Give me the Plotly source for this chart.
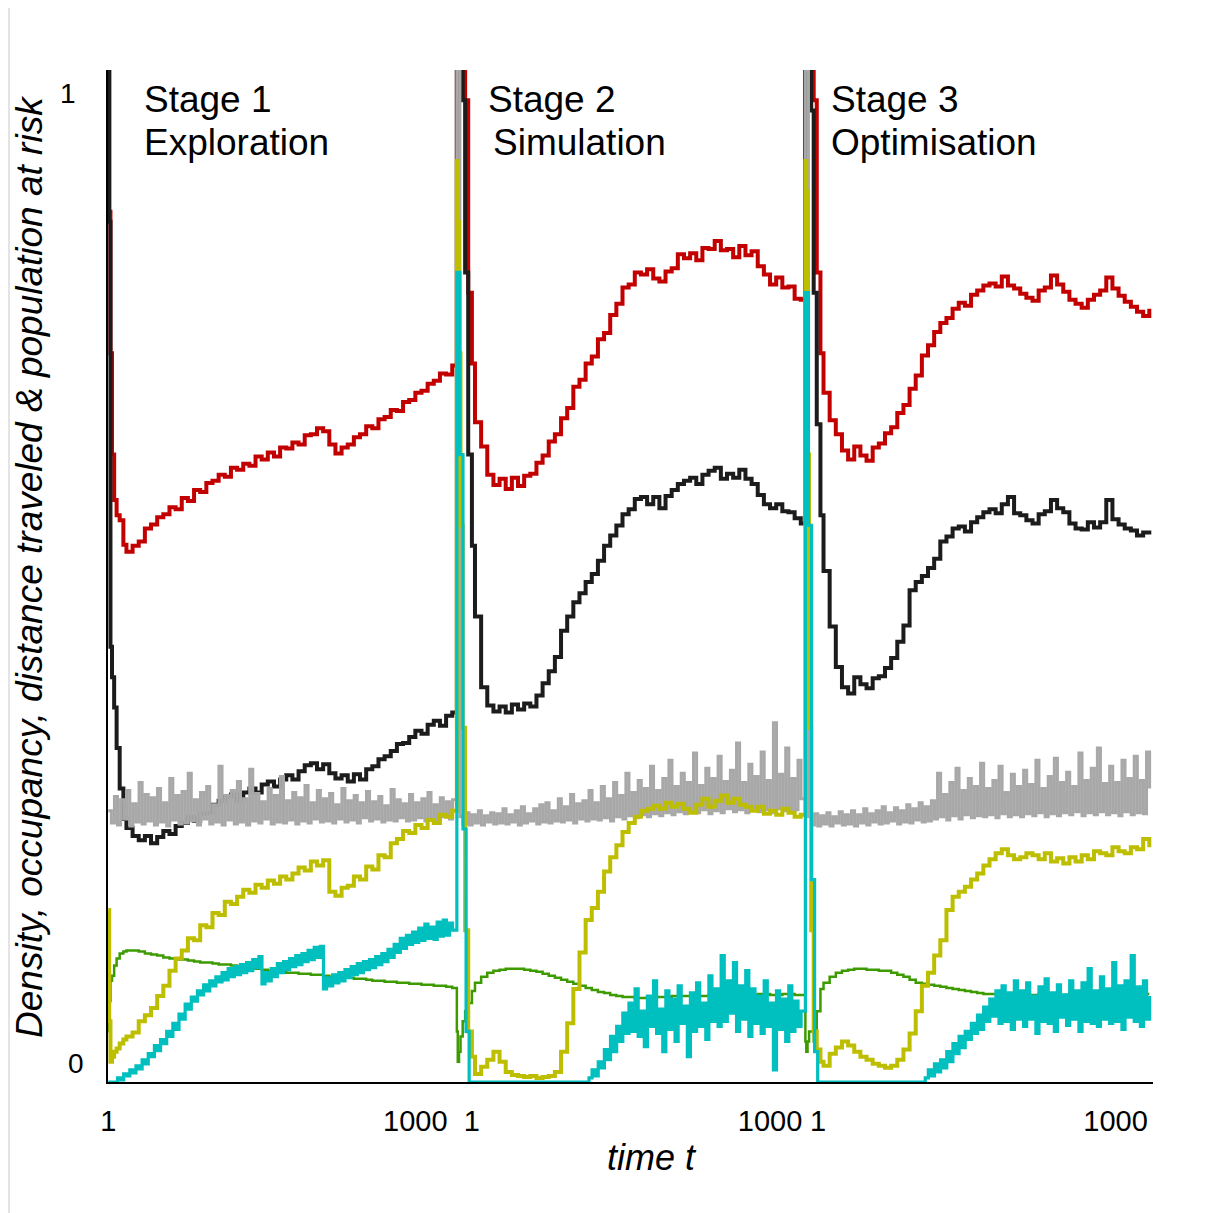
import plotly.graph_objects as go

# sample times inside one stage (each stage restarts its clock at t = 1)
t_stage = [1, 4, 8, 13, 20, 28, 38, 50] + list(range(60, 1121, 20))
# finer sampling for the two very noisy series (grey, teal)
t_fine = list(range(1, 1131, 10))
stage_len = 1134

############################################## red ##############################################
red_s1 = [1.0, 0.86, 0.72, 0.62, 0.575, 0.56, 0.555, 0.531,
          0.524, 0.530, 0.534, 0.547, 0.551, 0.558, 0.561, 0.568, 0.566,
          0.577, 0.574, 0.585, 0.583, 0.592, 0.594, 0.600, 0.598, 0.607,
          0.605, 0.611, 0.609, 0.618, 0.615, 0.622, 0.618, 0.627, 0.626,
          0.632, 0.630, 0.639, 0.640, 0.646, 0.643, 0.630, 0.621, 0.627,
          0.630, 0.637, 0.640, 0.648, 0.646, 0.655, 0.657, 0.664, 0.663,
          0.672, 0.674, 0.681, 0.683, 0.690, 0.693, 0.700, 0.699, 0.708]
red_s2 = [1.0, 1.0, 1.0, 1.0, 1.0, 0.97, 0.78, 0.71,
          0.652, 0.628, 0.600, 0.590, 0.596, 0.586, 0.597, 0.589, 0.599,
          0.601, 0.612, 0.619, 0.633, 0.640, 0.656, 0.666, 0.687, 0.694,
          0.710, 0.717, 0.734, 0.740, 0.758, 0.769, 0.785, 0.788, 0.800,
          0.798, 0.803, 0.794, 0.791, 0.801, 0.804, 0.818, 0.814, 0.819,
          0.812, 0.824, 0.823, 0.831, 0.822, 0.823, 0.815, 0.826, 0.817,
          0.821, 0.806, 0.798, 0.788, 0.795, 0.785, 0.786, 0.774, 0.773]
red_s3 = [1.0, 1.0, 1.0, 1.0, 1.0, 0.97, 0.80, 0.72,
          0.681, 0.654, 0.640, 0.624, 0.615, 0.628, 0.619, 0.614, 0.627,
          0.631, 0.641, 0.647, 0.661, 0.669, 0.685, 0.698, 0.718, 0.728,
          0.741, 0.750, 0.755, 0.764, 0.770, 0.767, 0.778, 0.782, 0.787,
          0.789, 0.786, 0.796, 0.787, 0.784, 0.779, 0.775, 0.772, 0.782,
          0.785, 0.797, 0.788, 0.781, 0.773, 0.769, 0.765, 0.773, 0.778,
          0.782, 0.795, 0.784, 0.777, 0.771, 0.766, 0.761, 0.757, 0.764]

############################################## black ##############################################
black_s1 = [1.0, 0.85, 0.43, 0.40, 0.37, 0.33, 0.29, 0.26,
            0.251, 0.243, 0.239, 0.243, 0.236, 0.242, 0.248, 0.245, 0.253,
            0.256, 0.262, 0.258, 0.265, 0.266, 0.274, 0.278, 0.282, 0.284,
            0.278, 0.286, 0.290, 0.286, 0.294, 0.297, 0.292, 0.299, 0.303,
            0.299, 0.307, 0.313, 0.315, 0.309, 0.314, 0.305, 0.300, 0.303,
            0.297, 0.304, 0.299, 0.309, 0.312, 0.319, 0.322, 0.327, 0.334,
            0.335, 0.341, 0.347, 0.344, 0.353, 0.357, 0.352, 0.362, 0.365]
black_s2 = [1.0, 1.0, 1.0, 1.0, 0.97, 0.80, 0.62, 0.53,
            0.46, 0.39, 0.372, 0.366, 0.371, 0.365, 0.373, 0.368, 0.374,
            0.371, 0.382, 0.394, 0.406, 0.420, 0.446, 0.460, 0.474, 0.483,
            0.494, 0.502, 0.515, 0.530, 0.540, 0.550, 0.561, 0.566, 0.576,
            0.578, 0.571, 0.578, 0.567, 0.579, 0.585, 0.591, 0.594, 0.597,
            0.591, 0.600, 0.604, 0.607, 0.596, 0.601, 0.597, 0.605, 0.596,
            0.591, 0.580, 0.571, 0.567, 0.571, 0.564, 0.563, 0.557, 0.552]
black_s3 = [1.0, 1.0, 1.0, 1.0, 0.96, 0.78, 0.65, 0.56,
            0.505, 0.450, 0.410, 0.390, 0.384, 0.400, 0.393, 0.389, 0.399,
            0.401, 0.409, 0.419, 0.435, 0.451, 0.486, 0.494, 0.500, 0.508,
            0.517, 0.534, 0.539, 0.547, 0.549, 0.544, 0.553, 0.558, 0.563,
            0.566, 0.562, 0.571, 0.578, 0.562, 0.560, 0.555, 0.552, 0.561,
            0.564, 0.575, 0.567, 0.563, 0.552, 0.547, 0.546, 0.553, 0.548,
            0.553, 0.575, 0.556, 0.551, 0.547, 0.545, 0.540, 0.543, 0.545]

############################################## gray (fine) ##############################################
gray_s1 = [0.268, 0.256, 0.282, 0.254, 0.279, 0.260, 0.288, 0.253, 0.275, 0.257, 0.296, 0.255, 0.284, 0.258,
           0.281, 0.254, 0.290, 0.257, 0.276, 0.253, 0.300, 0.259, 0.283, 0.255, 0.287, 0.256, 0.305, 0.258,
           0.279, 0.254, 0.286, 0.260, 0.292, 0.255, 0.274, 0.257, 0.312, 0.254, 0.283, 0.259, 0.288, 0.255,
           0.297, 0.257, 0.280, 0.254, 0.309, 0.258, 0.285, 0.256, 0.277, 0.260, 0.290, 0.255, 0.283, 0.257,
           0.302, 0.256, 0.278, 0.259, 0.286, 0.255, 0.281, 0.258, 0.293, 0.256, 0.276, 0.260, 0.288, 0.257,
           0.280, 0.258, 0.285, 0.256, 0.274, 0.260, 0.290, 0.257, 0.278, 0.259, 0.283, 0.256, 0.276, 0.261,
           0.287, 0.258, 0.277, 0.260, 0.282, 0.257, 0.273, 0.259, 0.289, 0.258, 0.279, 0.261, 0.275, 0.258,
           0.284, 0.259, 0.276, 0.261, 0.280, 0.258, 0.286, 0.260, 0.274, 0.259, 0.281, 0.262, 0.277, 0.260, 0.279]
gray_s2 = [1.0, 0.262, 0.255, 0.266, 0.254, 0.264, 0.256, 0.268, 0.254, 0.263, 0.257, 0.266, 0.255, 0.265,
           0.256, 0.270, 0.255, 0.264, 0.257, 0.268, 0.254, 0.272, 0.256, 0.265, 0.258, 0.270, 0.255, 0.274,
           0.257, 0.276, 0.256, 0.268, 0.258, 0.280, 0.257, 0.272, 0.259, 0.284, 0.256, 0.275, 0.260, 0.278,
           0.258, 0.288, 0.260, 0.276, 0.259, 0.292, 0.261, 0.280, 0.258, 0.296, 0.262, 0.283, 0.260, 0.305,
           0.263, 0.286, 0.261, 0.298, 0.264, 0.290, 0.262, 0.312, 0.265, 0.288, 0.263, 0.300, 0.266, 0.318,
           0.264, 0.292, 0.267, 0.305, 0.265, 0.296, 0.268, 0.325, 0.266, 0.293, 0.269, 0.310, 0.265, 0.300,
           0.268, 0.322, 0.266, 0.297, 0.270, 0.308, 0.267, 0.335, 0.269, 0.296, 0.266, 0.314, 0.270, 0.302,
           0.267, 0.326, 0.269, 0.298, 0.266, 0.355, 0.270, 0.304, 0.268, 0.330, 0.267, 0.300, 0.269, 0.318, 0.280]
gray_s3 = [1.0, 0.262, 0.254, 0.265, 0.253, 0.263, 0.255, 0.266, 0.253, 0.262, 0.256, 0.267, 0.254, 0.264,
           0.255, 0.268, 0.253, 0.264, 0.256, 0.270, 0.254, 0.265, 0.257, 0.268, 0.255, 0.272, 0.256, 0.266,
           0.258, 0.271, 0.255, 0.268, 0.257, 0.274, 0.256, 0.270, 0.259, 0.276, 0.257, 0.272, 0.258, 0.278,
           0.260, 0.305, 0.262, 0.284, 0.259, 0.296, 0.263, 0.310, 0.260, 0.288, 0.264, 0.300, 0.261, 0.292,
           0.263, 0.315, 0.262, 0.290, 0.264, 0.298, 0.261, 0.312, 0.265, 0.286, 0.262, 0.304, 0.264, 0.292,
           0.262, 0.308, 0.265, 0.294, 0.263, 0.318, 0.266, 0.290, 0.262, 0.302, 0.265, 0.320, 0.263, 0.296,
           0.266, 0.306, 0.264, 0.292, 0.267, 0.325, 0.263, 0.298, 0.266, 0.310, 0.264, 0.330, 0.267, 0.295,
           0.264, 0.312, 0.266, 0.296, 0.263, 0.318, 0.267, 0.300, 0.264, 0.322, 0.266, 0.298, 0.265, 0.326, 0.290]

############################################## green ##############################################
green_s1 = [0.05, 0.08, 0.10, 0.105, 0.115, 0.122, 0.127, 0.129,
            0.130, 0.130, 0.129, 0.127, 0.126, 0.125, 0.123, 0.122, 0.121,
            0.121, 0.120, 0.119, 0.118, 0.118, 0.117, 0.116, 0.116, 0.115,
            0.114, 0.113, 0.113, 0.112, 0.111, 0.110, 0.110, 0.109, 0.108,
            0.108, 0.107, 0.107, 0.106, 0.106, 0.105, 0.104, 0.104, 0.103,
            0.103, 0.102, 0.102, 0.101, 0.100, 0.100, 0.099, 0.099, 0.098,
            0.098, 0.097, 0.097, 0.096, 0.096, 0.095, 0.095, 0.094, 0.093]
green_s2 = [0.05, 0.02, 0.03, 0.045, 0.06, 0.07, 0.078, 0.090,
            0.098, 0.104, 0.108, 0.110, 0.111, 0.112, 0.112, 0.112, 0.111,
            0.110, 0.109, 0.107, 0.105, 0.103, 0.101, 0.099, 0.097, 0.095,
            0.093, 0.091, 0.089, 0.088, 0.086, 0.085, 0.084, 0.084, 0.083,
            0.083, 0.084, 0.084, 0.084, 0.084, 0.085, 0.085, 0.085, 0.084,
            0.085, 0.085, 0.086, 0.086, 0.086, 0.086, 0.087, 0.087, 0.086,
            0.086, 0.087, 0.087, 0.086, 0.086, 0.087, 0.087, 0.086, 0.086]
green_s3 = [0.04, 0.03, 0.04, 0.05, 0.05, 0.04, 0.07, 0.092,
            0.098, 0.104, 0.108, 0.110, 0.111, 0.112, 0.112, 0.111, 0.111,
            0.110, 0.110, 0.108, 0.106, 0.104, 0.101, 0.098, 0.097, 0.096,
            0.095, 0.094, 0.093, 0.092, 0.091, 0.090, 0.089, 0.088, 0.087,
            0.087, 0.087, 0.086, 0.087, 0.086, 0.087, 0.086, 0.086, 0.087,
            0.086, 0.087, 0.086, 0.086, 0.087, 0.086, 0.087, 0.086, 0.086,
            0.087, 0.086, 0.086, 0.087, 0.086, 0.087, 0.086, 0.087, 0.087]

############################################## yellow ##############################################
yellow_s1 = [0.17, 0.06, 0.02, 0.025, 0.03, 0.033, 0.038, 0.042,
             0.045, 0.049, 0.060, 0.066, 0.073, 0.085, 0.095, 0.110, 0.122,
             0.130, 0.142, 0.140, 0.155, 0.153, 0.167, 0.165, 0.178, 0.176,
             0.183, 0.190, 0.187, 0.195, 0.192, 0.199, 0.196, 0.203, 0.200,
             0.206, 0.212, 0.209, 0.218, 0.214, 0.219, 0.188, 0.184, 0.192,
             0.194, 0.203, 0.200, 0.213, 0.210, 0.224, 0.222, 0.236, 0.240,
             0.248, 0.246, 0.254, 0.251, 0.259, 0.256, 0.264, 0.262, 0.268]
yellow_s2 = [0.91, 0.85, 0.72, 0.55, 0.35, 0.15, 0.05, 0.025,
             0.008, 0.015, 0.022, 0.030, 0.020, 0.010, 0.007, 0.006, 0.005,
             0.006, 0.004, 0.005, 0.006, 0.010, 0.030, 0.058, 0.092, 0.128,
             0.160, 0.172, 0.188, 0.208, 0.222, 0.234, 0.247, 0.256, 0.262,
             0.268, 0.270, 0.273, 0.270, 0.276, 0.272, 0.275, 0.270, 0.266,
             0.274, 0.280, 0.272, 0.278, 0.283, 0.276, 0.280, 0.274, 0.272,
             0.268, 0.272, 0.265, 0.268, 0.264, 0.270, 0.266, 0.262, 0.264]
yellow_s3 = [0.91, 0.88, 0.62, 0.35, 0.15, 0.05, 0.032, 0.020,
             0.016, 0.028, 0.034, 0.040, 0.036, 0.030, 0.025, 0.022, 0.018,
             0.016, 0.014, 0.016, 0.022, 0.032, 0.048, 0.070, 0.095, 0.108,
             0.125, 0.140, 0.170, 0.183, 0.188, 0.193, 0.200, 0.206, 0.214,
             0.220, 0.226, 0.230, 0.224, 0.220, 0.222, 0.226, 0.224, 0.220,
             0.226, 0.218, 0.221, 0.216, 0.222, 0.218, 0.224, 0.220, 0.228,
             0.226, 0.224, 0.232, 0.228, 0.226, 0.232, 0.230, 0.240, 0.232]

############################################## teal (fine) ##############################################
teal_s1 = [0.0, 0.0, 0.0, 0.004, 0.002, 0.008, 0.006, 0.012, 0.009, 0.016, 0.013, 0.022, 0.018, 0.028,
           0.025, 0.036, 0.031, 0.042, 0.038, 0.050, 0.045, 0.058, 0.052, 0.067, 0.062, 0.077, 0.072, 0.084,
           0.080, 0.090, 0.086, 0.096, 0.090, 0.100, 0.095, 0.104, 0.099, 0.108, 0.101, 0.112, 0.104, 0.114,
           0.106, 0.116, 0.108, 0.118, 0.110, 0.121, 0.113, 0.124, 0.097, 0.108, 0.100, 0.112, 0.104, 0.117,
           0.108, 0.119, 0.111, 0.122, 0.114, 0.125, 0.116, 0.127, 0.119, 0.130, 0.121, 0.133, 0.123, 0.134,
           0.092, 0.103, 0.095, 0.106, 0.098, 0.108, 0.100, 0.111, 0.103, 0.114, 0.106, 0.117, 0.108, 0.119,
           0.111, 0.121, 0.113, 0.124, 0.116, 0.127, 0.119, 0.131, 0.123, 0.136, 0.128, 0.142, 0.132, 0.145,
           0.136, 0.148, 0.138, 0.152, 0.140, 0.156, 0.142, 0.153, 0.141, 0.158, 0.144, 0.160, 0.145, 0.157, 0.150]
teal_s2 = [0.80, 0.62, 0.25, 0.05, 0.0, 0.0, 0.0, 0.0, 0.0, 0.0, 0.0, 0.0, 0.0, 0.0,
           0.0, 0.0, 0.0, 0.0, 0.0, 0.0, 0.0, 0.0, 0.0, 0.0, 0.0, 0.0, 0.0, 0.0,
           0.0, 0.0, 0.0, 0.0, 0.0, 0.0, 0.0, 0.0, 0.0, 0.0, 0.0, 0.0, 0.0, 0.0,
           0.0, 0.004, 0.012, 0.006, 0.020, 0.014, 0.032, 0.022, 0.045, 0.030, 0.055, 0.040, 0.068, 0.048,
           0.078, 0.050, 0.092, 0.045, 0.070, 0.035, 0.085, 0.055, 0.100, 0.048, 0.072, 0.030, 0.090, 0.052,
           0.082, 0.040, 0.095, 0.058, 0.075, 0.025, 0.088, 0.050, 0.098, 0.055, 0.078, 0.042, 0.105, 0.060,
           0.092, 0.055, 0.125, 0.060, 0.100, 0.068, 0.118, 0.050, 0.095, 0.062, 0.110, 0.045, 0.092, 0.058,
           0.085, 0.048, 0.100, 0.055, 0.078, 0.012, 0.090, 0.052, 0.082, 0.040, 0.095, 0.050, 0.080, 0.055, 0.070]
teal_s3 = [0.78, 0.55, 0.20, 0.03, 0.0, 0.0, 0.0, 0.0, 0.0, 0.0, 0.0, 0.0, 0.0, 0.0,
           0.0, 0.0, 0.0, 0.0, 0.0, 0.0, 0.0, 0.0, 0.0, 0.0, 0.0, 0.0, 0.0, 0.0,
           0.0, 0.0, 0.0, 0.0, 0.0, 0.0, 0.0, 0.0, 0.0, 0.0, 0.0, 0.004, 0.012, 0.006,
           0.018, 0.010, 0.022, 0.014, 0.030, 0.020, 0.038, 0.028, 0.045, 0.034, 0.050, 0.042, 0.058, 0.048,
           0.066, 0.052, 0.074, 0.060, 0.082, 0.065, 0.090, 0.058, 0.095, 0.060, 0.088, 0.052, 0.100, 0.062,
           0.090, 0.055, 0.098, 0.062, 0.085, 0.048, 0.094, 0.060, 0.102, 0.058, 0.088, 0.050, 0.096, 0.064,
           0.086, 0.056, 0.100, 0.062, 0.090, 0.050, 0.098, 0.060, 0.112, 0.058, 0.090, 0.055, 0.104, 0.062,
           0.092, 0.058, 0.118, 0.060, 0.095, 0.052, 0.100, 0.064, 0.125, 0.060, 0.094, 0.055, 0.100, 0.062, 0.085]

stage_titles = ["Stage 1", "Stage 2", "Stage 3"]
stage_subtitles = ["Exploration", "Simulation", "Optimisation"]
title_t = [110, 97, 79]
subtitle_t = [110, 113, 79]
tick_t = [1, 1000, 50, 1020, 42, 1010]
tick_text = ["1", "1000", "1", "1000", "1", "1000"]

font_family = "Liberation Sans, Arial, sans-serif"

fig = go.Figure()


def add_line(times, stages, color, width):
  xs, ys = [], []
  for k, vals in enumerate(stages):
    assert len(vals) == len(times), (color, k, len(vals))
    xs += [k * stage_len + t for t in times]
    ys += vals
  fig.add_trace(go.Scatter(
    x=xs, y=ys, mode="lines",
    line={"color": color, "width": width, "shape": "hv"},
    showlegend=False, hoverinfo="skip"
  ))


# drawing order matters: later traces sit on top
add_line(t_stage, [red_s1, red_s2, red_s3], "#c20000", 4)
add_line(t_stage, [black_s1, black_s2, black_s3], "#1c1c1c", 4)
add_line(t_fine, [gray_s1, gray_s2, gray_s3], "#a8a8a8", 3)
add_line(t_stage, [green_s1, green_s2, green_s3], "#3d9b00", 2.5)
add_line(t_stage, [yellow_s1, yellow_s2, yellow_s3], "#bebe00", 4)
add_line(t_fine, [teal_s1, teal_s2, teal_s3], "#00bfbf", 3.2)

annotations = []
for k in range(3):
  annotations.append(dict(
    x=k * stage_len + title_t[k], y=0.9704, xref="x", yref="paper",
    text=stage_titles[k], showarrow=False, xanchor="left", yanchor="middle",
    font={"size": 37, "color": "black", "family": font_family}
  ))
  annotations.append(dict(
    x=k * stage_len + subtitle_t[k], y=0.9279, xref="x", yref="paper",
    text=stage_subtitles[k], showarrow=False, xanchor="left", yanchor="middle",
    font={"size": 37, "color": "black", "family": font_family}
  ))

annotations += [
  dict(x=-0.038, y=1, xref="paper", yref="y", text="1", showarrow=False,
       xanchor="center", yanchor="middle", yshift=-23,
       font={"size": 28, "color": "black", "family": font_family}),
  dict(x=-0.031, y=0, xref="paper", yref="y", text="0", showarrow=False,
       xanchor="center", yanchor="middle", yshift=19,
       font={"size": 28, "color": "black", "family": font_family}),
  dict(x=-0.0746, y=0.509, xref="paper", yref="paper", textangle=-90,
       text="<i>Density, occupancy, distance traveled &amp; population at risk</i>",
       showarrow=False, xanchor="center", yanchor="middle",
       font={"size": 37, "color": "black", "family": font_family}),
  dict(x=0.5206, y=-0.075, xref="paper", yref="paper", text="<i>time t</i>",
       showarrow=False, xanchor="center", yanchor="middle",
       font={"size": 36, "color": "black", "family": font_family}),
]

tick_vals = [(i // 2) * stage_len + t for i, t in enumerate(tick_t)]

# the page body adds 8px around the figure, so the margins are 8px smaller
fig.update_layout({
  "width": 1211, "height": 1205,
  "margin": {"l": 100, "r": 66, "t": 62, "b": 131},
  "paper_bgcolor": "white", "plot_bgcolor": "white",
  "xaxis": {
    "range": [0, 3400], "showgrid": False, "zeroline": False,
    "showline": True, "linecolor": "black", "linewidth": 2,
    "tickvals": tick_vals, "ticktext": tick_text, "ticks": "",
    "ticklabelstandoff": 12,
    "tickfont": {"size": 29, "color": "black", "family": font_family},
  },
  "yaxis": {
    "range": [0, 1], "showgrid": False, "zeroline": False,
    "showline": True, "linecolor": "black", "linewidth": 2,
    "showticklabels": False, "ticks": "",
  },
  "annotations": annotations,
  "shapes": [
    dict(type="rect", xref="paper", yref="paper", x0=-0.0957, x1=-0.0938,
         y0=-0.1295, y1=1.0692, fillcolor="#e4e4e4", line={"width": 0}, layer="below"),
  ],
})

fig.write_html("out.html")
